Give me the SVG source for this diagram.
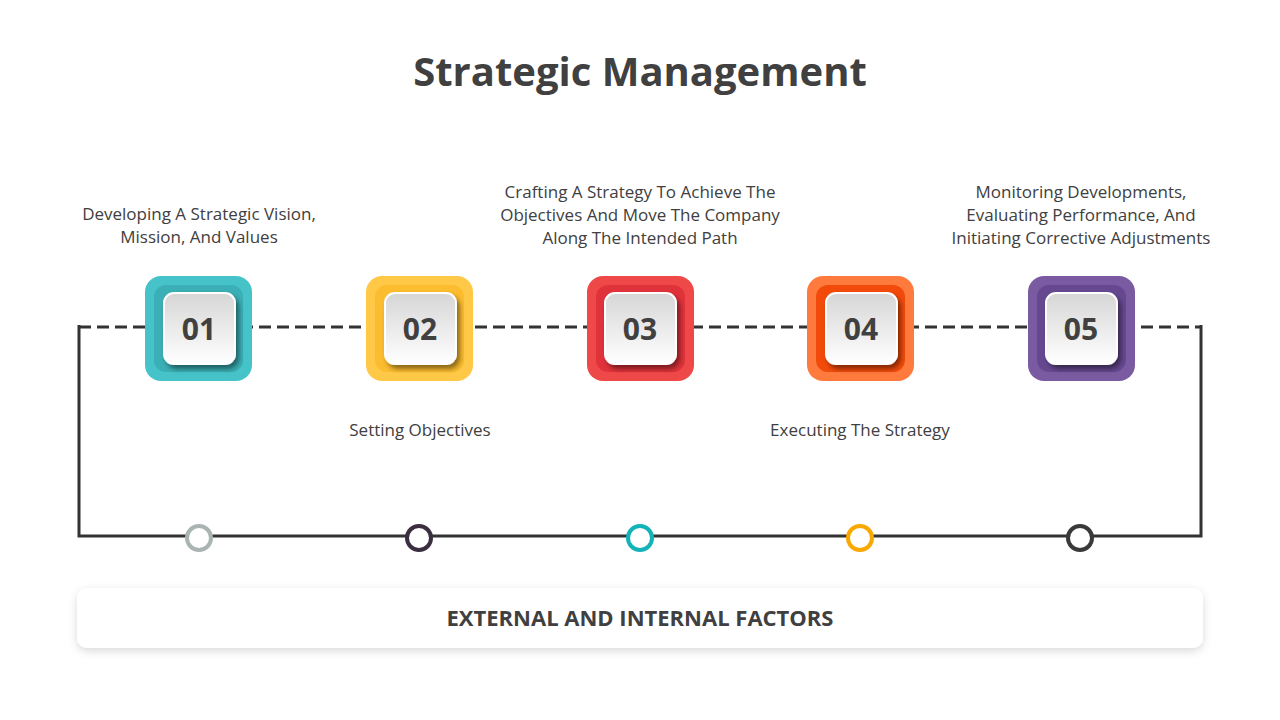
<svg xmlns="http://www.w3.org/2000/svg" width="1280" height="720" viewBox="0 0 1280 720">
<defs>
<linearGradient id="wg" x1="0" y1="0" x2="0" y2="1"><stop offset="0" stop-color="#d6d6d6"/><stop offset="1" stop-color="#ffffff"/></linearGradient>
<filter id="sh" x="-30%" y="-30%" width="160%" height="160%"><feDropShadow dx="3" dy="4" stdDeviation="2.5" flood-color="#000" flood-opacity="0.45"/></filter>
<filter id="sh2" x="-10%" y="-30%" width="120%" height="160%"><feDropShadow dx="0" dy="3" stdDeviation="4" flood-color="#000" flood-opacity="0.15"/></filter>
<style>
.t{font-family:"Open Sans","Liberation Sans",sans-serif;fill:#404040;text-anchor:middle}
.d{font-size:17px}
.n{font-size:30px;font-weight:bold}
.w{fill:url(#wg);stroke:#fff;stroke-width:2;filter:url(#sh)}
</style>
</defs>
<rect width="1280" height="720" fill="#fff"/>
<text class="t" x="640" y="86" font-size="40" font-weight="bold">Strategic Management</text>
<g id="connectors" fill="none" stroke="#333">
<path d="M79 327H1201" stroke-width="3" stroke-dasharray="12 6"/>
<path d="M79 325V536H1201V325" stroke-width="3"/>
</g>
<g id="circles" fill="#fff" stroke-width="4">
<circle cx="199" cy="538" r="12" stroke="#A9B4B3"/>
<circle cx="419" cy="538" r="12" stroke="#3B2F3F"/>
<circle cx="640" cy="538" r="12" stroke="#14B3B8"/>
<circle cx="860" cy="538" r="12" stroke="#F9A800"/>
<circle cx="1080" cy="538" r="12" stroke="#3A3A3A"/>
</g>
<g id="n1"><rect x="145" y="276" width="107" height="105" rx="16" fill="#45C3C9"/><rect x="154" y="285" width="89" height="87" rx="12" fill="#3AAFB5"/><rect x="164" y="293" width="71" height="71" rx="10" class="w"/><text class="t n" x="199" y="340">01</text></g>
<g id="n2"><rect x="366" y="276" width="107" height="105" rx="16" fill="#FFC846"/><rect x="375" y="285" width="89" height="87" rx="12" fill="#FBBC2F"/><rect x="385" y="293" width="71" height="71" rx="10" class="w"/><text class="t n" x="420" y="340">02</text></g>
<g id="n3"><rect x="587" y="276" width="107" height="105" rx="16" fill="#EF4848"/><rect x="596" y="285" width="89" height="87" rx="12" fill="#E0323A"/><rect x="605" y="293" width="71" height="71" rx="10" class="w"/><text class="t n" x="640" y="340">03</text></g>
<g id="n4"><rect x="807" y="276" width="107" height="105" rx="16" fill="#FF7A3D"/><rect x="816" y="285" width="89" height="87" rx="12" fill="#F24A0A"/><rect x="826" y="293" width="71" height="71" rx="10" class="w"/><text class="t n" x="861" y="340">04</text></g>
<g id="n5"><rect x="1028" y="276" width="107" height="105" rx="16" fill="#7A5AA0"/><rect x="1037" y="285" width="89" height="87" rx="12" fill="#664890"/><rect x="1046" y="293" width="71" height="71" rx="10" class="w"/><text class="t n" x="1081" y="340">05</text></g>
<g id="labels">
<text class="t d" x="199" y="220">Developing A Strategic Vision,</text>
<text class="t d" x="199" y="243">Mission, And Values</text>
<text class="t d" x="420" y="436">Setting Objectives</text>
<text class="t d" x="640" y="198">Crafting A Strategy To Achieve The</text>
<text class="t d" x="640" y="221">Objectives And Move The Company</text>
<text class="t d" x="640" y="244">Along The Intended Path</text>
<text class="t d" x="860" y="436">Executing The Strategy</text>
<text class="t d" x="1081" y="198">Monitoring Developments,</text>
<text class="t d" x="1081" y="221">Evaluating Performance, And</text>
<text class="t d" x="1081" y="244">Initiating Corrective Adjustments</text>
</g>
<g id="factors"><rect x="77" y="588" width="1126" height="60" rx="10" fill="#fff" filter="url(#sh2)"/><text class="t" x="640" y="626" font-size="22" font-weight="bold">EXTERNAL AND INTERNAL FACTORS</text></g>
</svg>
